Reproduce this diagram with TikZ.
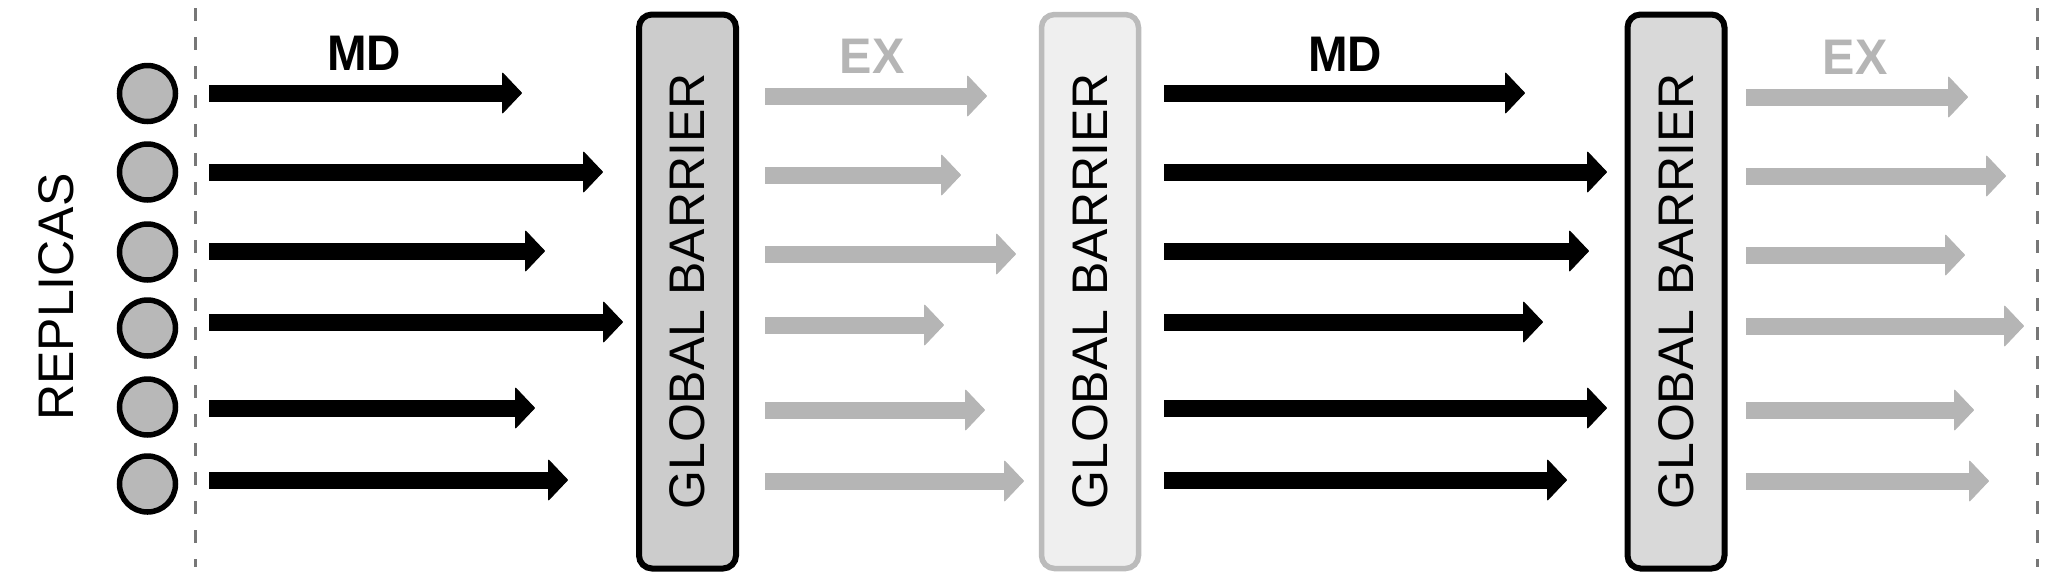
\documentclass[tikz,border=0pt]{standalone}
\usepackage{fontspec}
\setmainfont{Liberation Sans}
\usetikzlibrary{arrows.meta}
\definecolor{exgray}{HTML}{B5B5B5}
\definecolor{dashgray}{HTML}{777777}
\definecolor{circfill}{HTML}{B8B8B8}
\definecolor{bfillA}{HTML}{CCCCCC}
\definecolor{bfillB}{HTML}{EFEFEF}
\definecolor{bfillC}{HTML}{D9D9D9}
\definecolor{bdrawB}{HTML}{BBBBBB}
\tikzset{
  bigfont/.style={font=\fontsize{50}{60}\selectfont},
  tiphead/.style={-{Triangle[width=42pt 0 0,length=20pt 0 0,line width=1pt 0 0,round]}},
  mdarrow/.style={line width=17pt, black, tiphead},
  exarrow/.style={line width=17pt, exgray, tiphead},
  replica/.style={circle, draw=black, line width=5.5pt, fill=circfill,
    minimum size=56pt, inner sep=0pt},
  barrierbox/.style={rotate=90, rounded corners=13pt, line width=6pt,
    minimum width=554pt, minimum height=97pt, inner sep=0pt, bigfont},
  sepline/.style={dashgray, line width=3pt, dash pattern=on 13pt off 16pt},
  phaselabel/.style={inner sep=0pt, bigfont},
}
\begin{document}
\begin{tikzpicture}[x=1pt,y=-1pt]
\useasboundingbox (0,0) rectangle (2056,587);

% separators
\coordinate (ltop) at (195,8);
\coordinate (lbot) at (195,567);
\coordinate (rtop) at (2037,8);
\coordinate (rbot) at (2037,567);
\draw[sepline] (ltop) -- (lbot);
\draw[sepline] (rtop) -- (rbot);

% replicas label
\node[rotate=90, inner sep=0pt, bigfont] (rep) at (56,297) {REPLICAS};

% replica circles
\foreach \i/\y in {1/93.5,2/172,3/252,4/328,5/407,6/484}{
  \node[replica] (c\i) at (147.5,\y) {};
}

% barriers
\node[barrierbox, draw=black, fill=bfillA] (b1) at (687.5,291.5) {GLOBAL BARRIER};
\node[barrierbox, draw=bdrawB, fill=bfillB, line width=5.5pt] (b2) at (1090,291.5) {GLOBAL BARRIER};
\node[barrierbox, draw=black, fill=bfillC] (b3) at (1676,291.5) {GLOBAL BARRIER};

% phase labels
\node[phaselabel] (md1) at (364,53) {\scalebox{0.95}[1]{\bfseries MD}};
\node[phaselabel, text=exgray] (ex1) at (872,56) {\scalebox{0.97}[1]{\bfseries EX}};
\node[phaselabel] (md2) at (1345,54) {\scalebox{0.95}[1]{\bfseries MD}};
\node[phaselabel, text=exgray] (ex2) at (1855,57) {\scalebox{0.97}[1]{\bfseries EX}};

% MD phase 1
\foreach \i/\y/\e in {1/93/522,2/172/603,3/251/545,4/322/623,5/408/535,6/480/568}{
  \coordinate (pas\i) at (209,\y);
  \coordinate (pae\i) at (\e,\y);
  \draw[mdarrow] (pas\i) -- (pae\i);
}
% EX phase 1
\foreach \i/\y/\e in {1/96/987,2/175/961,3/254/1016,4/325/944,5/410/985,6/481/1024}{
  \coordinate (pbs\i) at (765,\y);
  \coordinate (pbe\i) at (\e,\y);
  \draw[exarrow] (pbs\i) -- (pbe\i);
}
% MD phase 2
\foreach \i/\y/\e in {1/93/1525,2/172/1607,3/251/1589,4/322/1543,5/408/1607,6/480/1567}{
  \coordinate (pcs\i) at (1164,\y);
  \coordinate (pce\i) at (\e,\y);
  \draw[mdarrow] (pcs\i) -- (pce\i);
}
% EX phase 2
\foreach \i/\y/\e in {1/97/1968,2/176/2006,3/255/1965,4/326/2024,5/410/1974,6/481/1989}{
  \coordinate (pds\i) at (1746,\y);
  \coordinate (pde\i) at (\e,\y);
  \draw[exarrow] (pds\i) -- (pde\i);
}
\end{tikzpicture}
\end{document}
